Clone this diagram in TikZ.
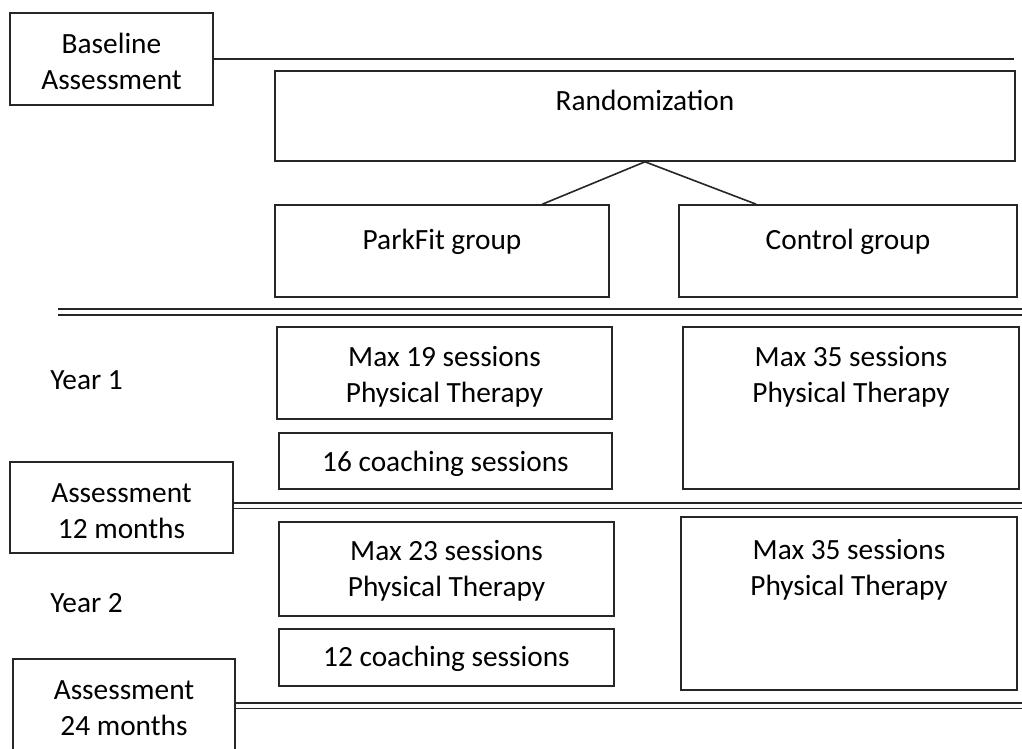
\documentclass[tikz,border=0pt]{standalone}
\usepackage{fontspec}
\setmainfont{Carlito}
\usepackage{tikz}
\usetikzlibrary{positioning, calc, fit}

\begin{document}
\begin{tikzpicture}[x=0.75pt, y=-0.75pt, font=\fontsize{22}{27}\selectfont]
  \tikzset{
    frame/.style={rectangle, draw=black!85, line width=1.2pt, inner sep=0pt},
    txt/.style={align=center, inner sep=0pt, anchor=north, execute at begin node={\strut}},
    sep/.style={draw=black!85, line width=1.2pt},
    dsep/.style={draw=black!85, line width=1.2pt, double, double distance=3pt}
  }
  \useasboundingbox (0,0) rectangle (1022,749);
  % boxes (pixel grid of the original chart)
  \node[frame, fit={(10,13) (213,105)}]    (bl)   {};
  \node[frame, fit={(275,71) (1015,161)}]  (rand) {};
  \node[frame, fit={(275,205) (609,297)}]  (pf)   {};
  \node[frame, fit={(679,205) (1017,297)}] (cg)   {};
  \node[frame, fit={(277,327) (612,419)}]  (pt1)  {};
  \node[frame, fit={(279,433) (612,489)}]  (co1)  {};
  \node[frame, fit={(683,327) (1019,489)}] (ct1)  {};
  \node[frame, fit={(10,462) (233,553)}]   (a12)  {};
  \node[frame, fit={(279,522) (614,616)}]  (pt2)  {};
  \node[frame, fit={(279,629) (614,686)}]  (co2)  {};
  \node[frame, fit={(681,517) (1017,690)}] (ct2)  {};
  \node[frame, fit={(13,659) (235,752)}]   (a24)  {};
  % texts, hung from the top of each box
  \node[txt] (blt)   at ($(bl.north)+(0,21)$)   {Baseline\\Assessment};
  \node[txt] (randt) at ($(rand.north)+(0,15)$) {Randomization};
  \node[txt] (pft)   at ($(pf.north)+(0,20)$)   {ParkFit group};
  \node[txt] (cgt)   at ($(cg.north)+(0,20)$)   {Control group};
  \node[txt] (pt1t)  at ($(pt1.north)+(0,20)$)  {Max 19 sessions\\Physical Therapy};
  \node[txt] (co1t)  at ($(co1.north)+(0,14)$)  {16 coaching sessions};
  \node[txt] (ct1t)  at ($(ct1.north)+(0,20)$)  {Max 35 sessions\\Physical Therapy};
  \node[txt] (a12t)  at ($(a12.north)+(0,22)$)  {Assessment\\12 months};
  \node[txt] (pt2t)  at ($(pt2.north)+(0,19)$)  {Max 23 sessions\\Physical Therapy};
  \node[txt] (co2t)  at ($(co2.north)+(0,13)$)  {12 coaching sessions};
  \node[txt] (ct2t)  at ($(ct2.north)+(0,23)$)  {Max 35 sessions\\Physical Therapy};
  \node[txt] (a24t)  at ($(a24.north)+(0,22)$)  {Assessment\\24 months};
  \node[anchor=base west, inner sep=0pt] (y1) at (50,389) {Year 1};
  \node[anchor=base west, inner sep=0pt] (y2) at (50,612) {Year 2};
  % split into the two arms
  \foreach \to/\ang in {pf/25, cg/153}{
    \draw[sep] (rand.south) -- (\to.\ang);
  }
  % time lines
  \draw[sep] (bl.east) -- ++(800,0);
  \draw[dsep] (58,312) -- (1022,312);
  \draw[dsep] ($(a12.east)+(0,-2)$) -- ++(789,0);
  \draw[dsep] (a24.east) -- ++(787,0);
\end{tikzpicture}
\end{document}
